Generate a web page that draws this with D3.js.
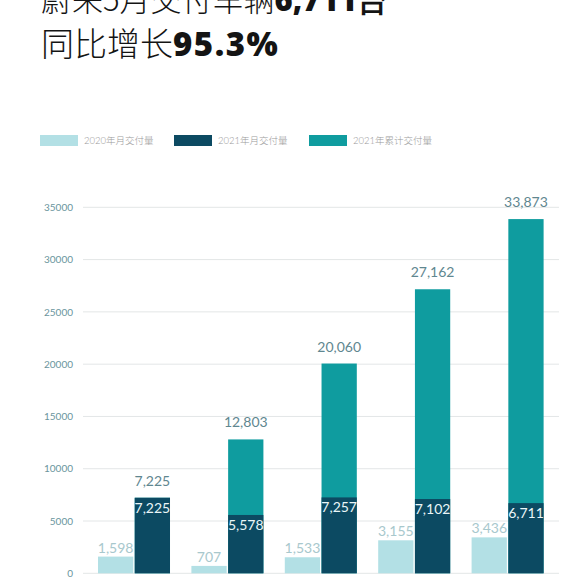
<!DOCTYPE html>
<html>
<head>
<meta charset="utf-8">
<script src="https://cdn.jsdelivr.net/npm/d3@7"></script>
<style>
  html, body { margin: 0; padding: 0; background: #fff; }
  svg { display: block; }
</style>
</head>
<body>
<svg id="chart" width="576" height="583"></svg>
<script>
const months = ["1月", "2月", "3月", "4月", "5月"];
const monthly2020 = [1598, 707, 1533, 3155, 3436];
const monthly2021 = [7225, 5578, 7257, 7102, 6711];
const cumulative2021 = [7225, 12803, 20060, 27162, 33873];
const yTicks = [0, 5000, 10000, 15000, 20000, 25000, 30000, 35000];
const legendLabels = ["2020年月交付量", "2021年月交付量", "2021年累计交付量"];
const titleLine1 = ["蔚来5月交付车辆", "6,711台"];
const titleLine2 = ["同比增长", "95.3%"];

const colors = { c2020: "#b3e0e5", c2021: "#0c4a62", cum: "#0f9c9f" };
const fmt = d3.format(",");

const svg = d3.select("#chart");

// Title (the top line is cropped by the picture edge, as in the original)
const cjk = "'Noto Sans CJK SC', sans-serif";
const num = "Lato, 'Noto Sans', sans-serif";
const bold = "'Open Sans', Lato, sans-serif";
function titleLine(parts, y, size, sp) {
  const t = svg.append("text").attr("x", 41).attr("y", y).attr("font-size", size).attr("fill", "#141414");
  t.append("tspan").attr("font-family", cjk).attr("font-weight", 300).text(parts[0]);
  t.append("tspan").attr("font-family", bold).attr("font-weight", 800).attr("letter-spacing", sp).text(parts[1]);
}
titleLine(titleLine1, 11, 31, 0);
titleLine(titleLine2, 56, 33, 1.5);

// Legend
const legendX = [40, 174, 309];
const legendColors = [colors.c2020, colors.c2021, colors.cum];
legendLabels.forEach((lab, i) => {
  svg.append("rect").attr("x", legendX[i]).attr("y", 135).attr("width", 38).attr("height", 11).attr("fill", legendColors[i]);
  svg.append("text").attr("x", legendX[i] + 44).attr("y", 144).attr("font-size", 9.5)
    .attr("font-family", "Lato, " + cjk).attr("font-weight", 300).attr("fill", "#9a9a9a").text(lab);
});

// Scales
const y = d3.scaleLinear().domain([0, 35000]).range([573.3, 207.3]);
const x = d3.scaleBand().domain(months).range([87.3, 554.3]).paddingInner(0.229).paddingOuter(0.1145);
const xi = d3.scaleBand().domain(["2020", "2021"]).range([0, x.bandwidth()]).paddingInner(0.04);

// Grid + y axis
const yAxis = d3.axisLeft(y).tickValues(yTicks).tickSize(0).tickPadding(0).tickFormat(d3.format("d"));
const gy = svg.append("g").attr("transform", "translate(73,0)").call(yAxis);
gy.select(".domain").remove();
gy.selectAll("text").attr("font-family", num).attr("font-size", 10).attr("fill", "#6a959d");
svg.append("g").selectAll("line").data(yTicks).join("line")
  .attr("x1", 83).attr("x2", 559).attr("y1", d => y(d)).attr("y2", d => y(d))
  .attr("stroke", "#e3e6e7").attr("stroke-width", 1);

const g = svg.append("g");
months.forEach((m, i) => {
  const gx = x(m);
  const x20 = gx + xi("2020"), x21 = gx + xi("2021"), w = xi.bandwidth();
  // 2020 monthly
  g.append("rect").attr("x", x20).attr("y", y(monthly2020[i])).attr("width", w)
    .attr("height", y(0) - y(monthly2020[i])).attr("fill", colors.c2020);
  g.append("text").attr("x", x20 + w / 2).attr("y", y(monthly2020[i]) - 4).attr("text-anchor", "middle")
    .attr("font-family", num).attr("font-size", 14).attr("fill", "#a8c8cd").text(fmt(monthly2020[i]));
  // 2021 cumulative
  g.append("rect").attr("x", x21).attr("y", y(cumulative2021[i])).attr("width", w)
    .attr("height", y(0) - y(cumulative2021[i])).attr("fill", colors.cum);
  // 2021 monthly
  g.append("rect").attr("x", x21).attr("y", y(monthly2021[i])).attr("width", w)
    .attr("height", y(0) - y(monthly2021[i])).attr("fill", colors.c2021);
  g.append("text").attr("x", x21 + w / 2).attr("y", y(monthly2021[i]) + 15).attr("text-anchor", "middle")
    .attr("font-family", num).attr("font-size", 14).attr("fill", "#eaf6f8").text(fmt(monthly2021[i]));
  g.append("text").attr("x", x21 + w / 2).attr("y", y(cumulative2021[i]) - 12).attr("text-anchor", "middle")
    .attr("font-family", num).attr("font-size", 14).attr("fill", "#5f8790").text(fmt(cumulative2021[i]));
});
</script>
</body>
</html>
